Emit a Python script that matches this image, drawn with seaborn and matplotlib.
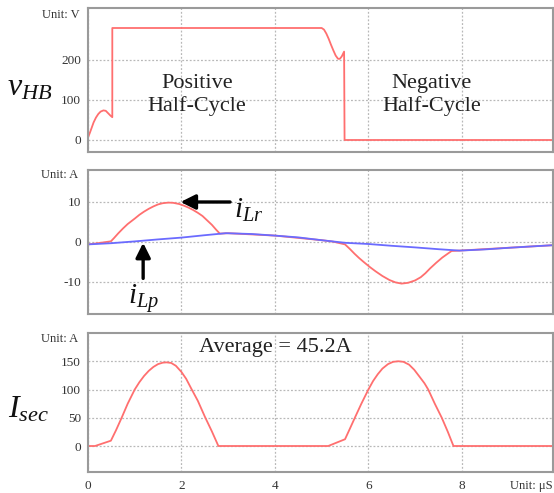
import matplotlib
matplotlib.use("Agg")
import matplotlib.pyplot as plt
import seaborn as sns

# ---------------- data ----------------
t_vhb = [0, 0.04, 0.08, 0.12, 0.17, 0.22, 0.27, 0.33, 0.38, 0.43, 0.48, 0.52,
         0.52, 5.0, 5.05, 5.1, 5.15, 5.2, 5.25, 5.3, 5.35, 5.39, 5.43, 5.48,
         5.49, 9.95]
v_hb = [6, 18, 31, 44, 56, 65, 71, 74, 73, 67, 61, 57,
        280, 280, 276, 266, 253, 238, 224, 211, 203, 203, 209, 221,
        0, 0]

t_lr = [0, 0.21, 0.49, 0.55, 0.65, 0.75, 0.85, 1.0, 1.1, 1.2, 1.3, 1.4, 1.5,
        1.6, 1.72, 1.82, 1.95, 2.05, 2.15, 2.25, 2.35, 2.45, 2.55, 2.65, 2.74,
        2.82, 3.0, 4.0, 5.0, 5.24, 5.5, 5.6, 5.7, 5.8, 5.9, 6.03, 6.15, 6.3,
        6.45, 6.58, 6.71, 6.85, 7.0, 7.12, 7.22, 7.32, 7.45, 7.58, 7.7, 7.78,
        7.95, 9.95]
i_lr = [-0.6, -0.3, 0.17, 0.9, 2.2, 3.4, 4.5, 5.85, 6.8, 7.6, 8.3, 8.9, 9.4,
        9.7, 9.85, 9.8, 9.5, 9.1, 8.6, 8.0, 7.3, 6.5, 5.4, 4.3, 3.1,
        2.1, 2.2, 1.6, 0.45, 0.1, -0.6, -1.7, -2.9, -4.0, -5.0, -6.25, -7.3, -8.5,
        -9.5, -10.1, -10.4, -10.2, -9.6, -8.8, -7.8, -6.6, -5.2, -3.9, -2.9, -2.25,
        -2.15, -0.8]

t_lp = [0, 0.5, 1.0, 1.5, 2.0, 2.5, 2.95, 3.5, 4.0, 4.5, 5.0, 5.5, 6.0, 6.5,
        7.0, 7.5, 7.95, 8.5, 9.0, 9.5, 9.95]
i_lp = [-0.6, -0.3, 0.15, 0.65, 1.1, 1.7, 2.2, 2.0, 1.6, 1.15, 0.45, -0.2, -0.5,
        -0.95, -1.35, -1.8, -2.15, -1.85, -1.45, -1.1, -0.8]

t_sec = [0, 0.15, 0.49, 0.6, 0.72, 0.85, 1.0, 1.1, 1.2, 1.3, 1.4, 1.5, 1.6,
         1.68, 1.78, 1.88, 2.0, 2.1, 2.22, 2.35, 2.5, 2.65, 2.79,
         5.14, 5.5, 5.6, 5.71, 5.85, 6.0, 6.1, 6.2, 6.3, 6.42, 6.53, 6.64, 6.75,
         6.87, 6.98, 7.1, 7.2, 7.28, 7.42, 7.57, 7.7, 7.82, 9.95]
i_sec = [0, 0, 9.4, 28, 50, 75, 100, 113, 124, 133, 140, 145, 147.5,
         148, 147, 142, 131, 119, 100, 80, 52, 26, 0,
         0, 12, 30, 50, 75, 100, 115, 127, 137, 145, 149, 150, 149,
         144, 135, 122, 111, 100, 75, 50, 25, 0, 0]

x_ticks = [0, 2, 4, 6, 8]
y1_ticks = [0, 100, 200]
y2_ticks = [-10, 0, 10]
y3_ticks = [0, 50, 100, 150]

# ---------------- style ----------------
sns.set_style("white")
plt.rcParams["font.family"] = ["Liberation Serif", "DejaVu Serif"]
plt.rcParams["mathtext.fontset"] = "custom"
plt.rcParams["mathtext.it"] = "Liberation Serif:italic"
plt.rcParams["mathtext.rm"] = "Liberation Serif"
plt.rcParams["axes.unicode_minus"] = False

RED = "#ff6f6f"
BLUE = "#6b6bff"
GRID = "#b8b8b8"
SPINE = "#9a9a9a"
TXT = "#333333"

fig = plt.figure(figsize=(5.54, 4.93), dpi=100)
W, H = 554, 493
def rect(l, t, r, b):
    return [l / W, 1 - b / H, (r - l) / W, (b - t) / H]

ax1 = fig.add_axes(rect(88, 8, 553, 152))
ax2 = fig.add_axes(rect(88, 170, 553, 314))
ax3 = fig.add_axes(rect(88, 333, 553, 472))

def style(ax, yticks, ylim, show_x):
    ax.set_xlim(0, 9.95)
    ax.set_ylim(*ylim)
    ax.set_xticks(x_ticks)
    ax.set_yticks(yticks)
    ax.grid(True, color=GRID, linestyle=(0, (1.5, 1.5)), linewidth=0.9)
    for s in ax.spines.values():
        s.set_color(SPINE)
        s.set_linewidth(1.5)
    ax.tick_params(axis="both", length=0, labelsize=9.5, colors=TXT, pad=5)
    if not show_x:
        ax.set_xticklabels([])
    ax.set_xlabel("")
    ax.set_ylabel("")

sns.lineplot(x=t_vhb, y=v_hb, ax=ax1, color=RED, lw=1.3, estimator=None, sort=False)
style(ax1, y1_ticks, (-30, 330), False)

sns.lineplot(x=t_lr, y=i_lr, ax=ax2, color=RED, lw=1.3, estimator=None, sort=False)
sns.lineplot(x=t_lp, y=i_lp, ax=ax2, color=BLUE, lw=1.3, estimator=None, sort=False)
style(ax2, y2_ticks, (-18, 18), False)

sns.lineplot(x=t_sec, y=i_sec, ax=ax3, color=RED, lw=1.3, estimator=None, sort=False)
style(ax3, y3_ticks, (-46, 200), True)
ax3.tick_params(axis="x", pad=6)

# unit labels
ax1.text(-0.017, 0.95, "Unit: V", transform=ax1.transAxes, ha="right", va="center", fontsize=9, color=TXT)
ax2.text(-0.022, 0.965, "Unit: A", transform=ax2.transAxes, ha="right", va="center", fontsize=9, color=TXT)
ax3.text(-0.022, 0.955, "Unit: A", transform=ax3.transAxes, ha="right", va="center", fontsize=9, color=TXT)
fig.text(553 / W, 1 - 486 / H, "Unit: \u03bcS", ha="right", va="center", fontsize=9, color=TXT)

# big axis names
fig.text(30 / W, 1 - 88 / H, r"$v_{HB}$", ha="center", va="center", fontsize=23, color="#111111")
fig.text(29 / W, 1 - 410 / H, r"$I_{sec}$", ha="center", va="center", fontsize=23, color="#111111")

# annotations in panel 1
ax1.text(2.33, 112, "Positive\nHalf-Cycle", ha="center", va="center", fontsize=16,
         color="#222222", linespacing=1.2)
ax1.text(7.35, 112, "Negative\nHalf-Cycle", ha="center", va="center", fontsize=16,
         color="#222222", linespacing=1.2)

# arrows in panel 2
arrow = dict(arrowstyle="-|>", lw=2.4, color="black", mutation_scale=22, shrinkA=0, shrinkB=0)
ax2.annotate("", xy=(1.98, 10), xytext=(3.04, 10), arrowprops=arrow)
ax2.text(3.12, 7.8, r"$i_{Lr}$", ha="left", va="center", fontsize=21, color="#111111")
ax2.annotate("", xy=(1.18, -0.2), xytext=(1.18, -9.1), arrowprops=arrow)
ax2.text(1.19, -14.1, r"$i_{Lp}$", ha="center", va="center", fontsize=21, color="#111111")

# panel 3 text
ax3.text(4.0, 175, "Average = 45.2A", ha="center", va="center", fontsize=16, color="#222222")

fig.savefig("out.png", dpi=100, facecolor="white")
